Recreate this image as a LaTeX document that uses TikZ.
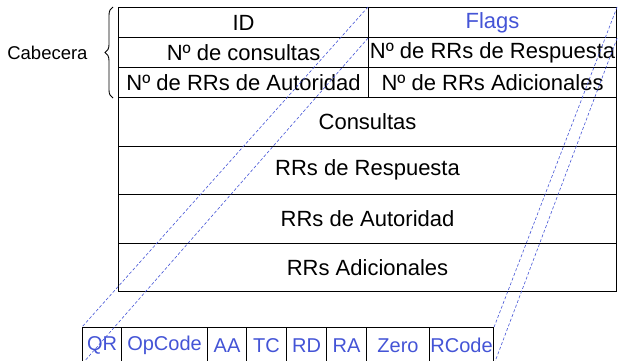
\documentclass[tikz,border=0pt]{standalone}
\usepackage{fontspec}
\setmainfont{Liberation Sans}
\usetikzlibrary{decorations.pathreplacing}
\definecolor{flagblue}{RGB}{68,84,214}
\begin{document}
\begin{tikzpicture}[x=1pt, y=-1pt,
    cell/.style={draw, line width=1.1pt, inner sep=0pt, anchor=north west,
        font=\fontsize{22}{24}\selectfont},
    half/.style={cell, minimum width=250, minimum height=30},
    row/.style={cell, minimum width=498, minimum height=48.5},
    flag/.style={cell, text=flagblue, minimum height=36, font=\fontsize{20}{22}\selectfont},
    zoomline/.style={flagblue, line width=.6pt, dash pattern=on 3pt off 2pt}]
    \useasboundingbox (0,0) rectangle (618,361);
    % cabecera
    \node[half] (id) at (118,7) {ID};
    \node[half, minimum width=248, text=flagblue] (flags) at (368,7) {Flags};
    \node[half] (ncons) at (118,37) {N\textordmasculine\ de consultas};
    \node[half, minimum width=248] (nresp) at (368,37) {N\textordmasculine\ de RRs de Respuesta};
    \node[half] (naut) at (118,67) {N\textordmasculine\ de RRs de Autoridad};
    \node[half, minimum width=248] (nadic) at (368,67) {N\textordmasculine\ de RRs Adicionales};
    \draw [line width=.9pt, decorate, decoration={brace, amplitude=8pt}]
        ([xshift=-5pt]naut.south west) -- ([xshift=-5pt]id.north west)
        node [midway, left=25pt, inner sep=0pt, font=\fontsize{18.5}{20}\selectfont] (cab) {Cabecera};
    % secciones
    \node[row] (cons) at (118,97) {Consultas};
    \node[row] (resp) at (118,145.5) {RRs de Respuesta};
    \node[row] (aut) at (118,194) {RRs de Autoridad};
    \node[row] (adic) at (118,242.5) {RRs Adicionales};
    % flags
    \foreach \x/\w/\txt/\nm in {82/39/QR/qr, 121/86/OpCode/opcode, 207/39/AA/aa,
        246/40/TC/tc, 286/40/RD/rd, 326/40/RA/ra, 366/63/Zero/zero, 429/64/RCode/rcode}
        \node[flag, minimum width=\w] (\nm) at (\x,327) {\txt};
    \draw [zoomline] (flags.north west) -- (qr.north west);
    \draw [zoomline] (flags.south west) -- (qr.south west);
    \draw [zoomline] (flags.north east) -- (rcode.north east);
    \draw [zoomline] (flags.south east) -- (rcode.south east);
\end{tikzpicture}
\end{document}
